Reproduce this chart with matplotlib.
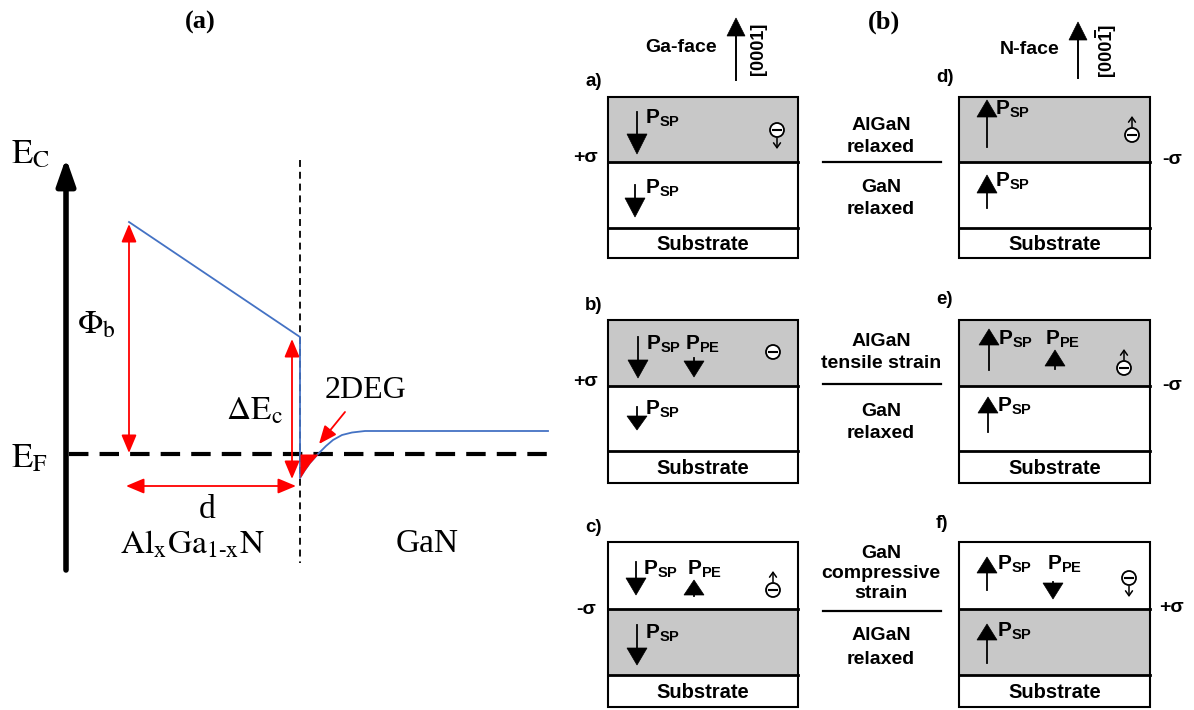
import matplotlib
matplotlib.use('Agg')
import matplotlib.pyplot as plt
from matplotlib.patches import Polygon, Rectangle, Circle
import numpy as np

plt.rcParams['mathtext.fontset'] = 'custom'
plt.rcParams['mathtext.rm'] = 'Liberation Sans:bold'
plt.rcParams['mathtext.bf'] = 'Liberation Sans:bold'
plt.rcParams['mathtext.it'] = 'Liberation Sans:bold'
plt.rcParams['lines.scale_dashes'] = False

# ---------------- data: panel (a) band diagram ----
band_x = [129, 300, 300, 305, 310, 318, 326, 333, 342, 352, 365, 548]
band_y = [222, 337, 478, 470, 463, 454, 446, 440, 435, 432.5, 431, 431]
fermi_level = 454
fermi_x = [69, 548]
interface_x = 300

# ---------------- data: panel (b) polarization sketches ----------------------
panel_letters_left = ['a)', 'b)', 'c)']
panel_letters_right = ['d)', 'e)', 'f)']
middle_top = [['AlGaN', 'relaxed'], ['AlGaN', 'tensile strain'],
              ['GaN', 'compressive', 'strain']]
middle_bottom = [['GaN', 'relaxed'], ['GaN', 'relaxed'], ['AlGaN', 'relaxed']]
sigma_left = ['+σ', '+σ', '-σ']
sigma_right = ['-σ', '-σ', '+σ']
gray_layer = ['top', 'top', 'bottom']
substrate_label = 'Substrate'
face_labels = ['Ga-face', 'N-face']
direction_labels = ['[0001]', '[0001]']
psp_label = r'$\mathbf{P_{SP}}$'
ppe_label = r'$\mathbf{P_{PE}}$'

fig = plt.figure(figsize=(11.94, 7.10), dpi=100)
ax = fig.add_axes([0, 0, 1, 1])
ax.set_xlim(0, 1194)
ax.set_ylim(710, 0)
ax.axis('off')

SERIF = 'Liberation Serif'
SANS = 'Liberation Sans'

# ============================ Panel (a) =====================================
ax.text(200, 22, '(a)', fontsize=19, fontweight='bold', family=SERIF,
        ha='center', va='center')

# energy axis
ax.annotate('', xy=(66, 158), xytext=(66, 570),
            arrowprops=dict(arrowstyle='-|>,head_length=0.8,head_width=0.28',
                            color='black', lw=4, shrinkA=0, shrinkB=0,
                            mutation_scale=20))
# interface dashed line
ax.plot([interface_x, interface_x], [160, 563], color='black', lw=1.3,
        dashes=(5, 3.5))
# Fermi level
ax.plot(fermi_x, [fermi_level, fermi_level], color='black', lw=3,
        dashes=(14, 8))

# conduction band
ax.plot(band_x, band_y, color='#4472C4', lw=1.3, zorder=3)

# 2DEG fill
bx = np.array(band_x[2:])
by = np.array(band_y[2:])
xs = np.linspace(bx[0], 320, 60)
ys = np.interp(xs, bx, by)
ax.fill_between(xs, fermi_level, ys, where=ys >= fermi_level, color='red',
                lw=0, zorder=4)


def red_arrow(p0, p1, style='<|-|>'):
    ax.annotate('', xy=p1, xytext=p0,
                arrowprops=dict(arrowstyle=style + ',head_length=1.0,head_width=0.42',
                                color='red', lw=1.3, shrinkA=0, shrinkB=0,
                                mutation_scale=11), zorder=5)


red_arrow((129, 224), (129, 453))
red_arrow((292, 339), (292, 479))
red_arrow((126, 486), (296, 486))
red_arrow((345, 412), (319, 444), style='-|>')

ax.text(11, 163, r'$\mathrm{E_C}$', fontsize=25, math_fontfamily='stix',
        ha='left', va='baseline')
ax.text(11, 467, r'$\mathrm{E_F}$', fontsize=25, math_fontfamily='stix',
        ha='left', va='baseline')
ax.text(77, 334, r'$\mathrm{\Phi_b}$', fontsize=24, math_fontfamily='stix',
        ha='left', va='baseline')
ax.text(226, 420, r'$\mathrm{\Delta E_c}$', fontsize=24, math_fontfamily='stix',
        ha='left', va='baseline')
ax.text(325, 398, '2DEG', fontsize=23, family=SERIF, ha='left', va='baseline')
ax.text(207, 518, 'd', fontsize=24, family=SERIF, ha='center', va='baseline')
ax.text(120, 553, r'$\mathrm{Al_xGa_{1\text{-}x}N}$', fontsize=24,
        math_fontfamily='stix', ha='left', va='baseline')
ax.text(396, 552, 'GaN', fontsize=24, family=SERIF, ha='left', va='baseline')

# ============================ Panel (b) =====================================
ax.text(884, 22, '(b)', fontsize=19, fontweight='bold', family=SERIF,
        ha='center', va='center')

GRAY = '#c8c8c8'
col_x = [(608, 798), (959, 1150)]
row_top = [97, 320, 542]
row_mid = [162, 386, 609]
row_sub = [228, 451, 675]
row_bot = [258, 483, 707]


def tri(x, tip, base, w):
    ax.add_patch(Polygon([[x - w / 2, base], [x + w / 2, base], [x, tip]],
                         closed=True, facecolor='black', edgecolor='black',
                         lw=0.5, zorder=5))


def pol_arrow(x, y0, y1, head=17, w=20, lw=1.3):
    d = np.sign(y1 - y0)
    base = y1 - d * head
    ax.plot([x, x], [y0, base], color='black', lw=lw, zorder=5)
    tri(x, y1, base, w)


def electron(x, y, direction):
    ax.add_patch(Circle((x, y), 7, facecolor='white', edgecolor='black',
                        lw=1.3, zorder=5))
    ax.plot([x - 4, x + 4], [y, y], color='black', lw=1.5, zorder=6)
    if direction is None:
        return
    sgn = 1 if direction == 'down' else -1
    ax.annotate('', xy=(x, y + sgn * 19), xytext=(x, y + sgn * 8),
                arrowprops=dict(arrowstyle='->,head_length=0.35,head_width=0.25',
                                color='black', lw=1.1, shrinkA=0, shrinkB=0,
                                mutation_scale=10))


def label(x, y, s):
    ax.text(x, y + 7, s, fontsize=15, ha='left', va='baseline',
            math_fontfamily='custom')


# boxes
for c, (x0, x1) in enumerate(col_x):
    for r in range(3):
        t, m, s, b = row_top[r], row_mid[r], row_sub[r], row_bot[r]
        if gray_layer[r] == 'top':
            ax.add_patch(Rectangle((x0, t), x1 - x0, m - t, facecolor=GRAY,
                                   edgecolor='none', zorder=1))
        else:
            ax.add_patch(Rectangle((x0, m), x1 - x0, s - m, facecolor=GRAY,
                                   edgecolor='none', zorder=1))
        ax.add_patch(Rectangle((x0, t), x1 - x0, b - t, facecolor='none',
                               edgecolor='black', lw=1.5, zorder=2))
        ax.plot([x0, x1], [m, m], color='black', lw=2, zorder=2)
        ax.plot([x0, x1], [s, s], color='black', lw=2, zorder=2)
        ax.text((x0 + x1) / 2, (s + b) / 2 + 1, substrate_label, fontsize=14.5,
                fontweight='bold', family=SANS, ha='center', va='center')

# panel letters
for r in range(3):
    ax.text(585, [82, 305, 527][r], panel_letters_left[r], fontsize=13.5,
            fontweight='bold', family=SANS, ha='left', va='center')
    ax.text(936, [77, 300, 523][r], panel_letters_right[r], fontsize=13.5,
            fontweight='bold', family=SANS, ha='left', va='center')

# sigma labels
for r in range(3):
    ax.text(586, [158, 382, 610][r], sigma_left[r], fontsize=14,
            family=SANS, fontweight='bold', ha='center', va='center')
    ax.text(1172, [160, 386, 608][r], sigma_right[r], fontsize=14,
            family=SANS, fontweight='bold', ha='center', va='center')

# middle descriptions
top_ys = [[125, 147], [342, 363], [553, 574, 594]]
bot_ys = [[187, 209], [411, 434], [636, 659]]
div_ys = [162, 384, 611]
for r in range(3):
    for txt, yy in zip(middle_top[r], top_ys[r]):
        ax.text(881, yy, txt, fontsize=14, fontweight='bold', family=SANS,
                ha='center', va='center')
    for txt, yy in zip(middle_bottom[r], bot_ys[r]):
        ax.text(881, yy, txt, fontsize=14, fontweight='bold', family=SANS,
                ha='center', va='center')
    ax.plot([823, 941], [div_ys[r], div_ys[r]], color='black', lw=1.6)

# face labels + growth direction arrows
ax.text(681, 48, face_labels[0], fontsize=14, fontweight='bold', family=SANS,
        ha='center', va='center')
ax.text(1030, 50, face_labels[1], fontsize=14, fontweight='bold', family=SANS,
        ha='center', va='center')
pol_arrow(736, 80, 18, head=18, w=18, lw=1.4)
pol_arrow(1078, 78, 22, head=18, w=18, lw=1.4)
ax.text(758, 49, direction_labels[0], fontsize=13, rotation=90,
        fontweight='bold', family=SANS, ha='center', va='center')
ax.text(1106, 50, direction_labels[1], fontsize=13, rotation=90,
        fontweight='bold', family=SANS, ha='center', va='center')
# overbar on the "1" of the N-face direction index
ax.plot([1095, 1095], [31, 37], color='black', lw=1.4)

# Ga-face spontaneous polarization arrows (down)
pol_arrow(637, 112, 154, head=20)
pol_arrow(635, 185, 217, head=19)
pol_arrow(638, 337, 378, head=18)
pol_arrow(637, 407, 430, head=14)
pol_arrow(636, 562, 595, head=17)
pol_arrow(637, 625, 665, head=17)
# N-face spontaneous polarization arrows (up)
pol_arrow(987, 147, 100, head=17)
pol_arrow(987, 208, 175, head=18)
pol_arrow(989, 370, 329, head=16)
pol_arrow(988, 432, 397, head=16)
pol_arrow(987, 590, 557, head=16)
pol_arrow(987, 663, 624, head=16)
# piezoelectric arrows
pol_arrow(694, 358, 377, head=16)
pol_arrow(694, 596, 580, head=15)
pol_arrow(1055, 369, 350, head=16)
pol_arrow(1053, 582, 599, head=16)

for (x, y) in [(645, 117), (645, 187), (646, 343), (645, 408), (643, 568),
               (645, 632), (995, 108), (995, 180), (998, 338), (997, 405),
               (997, 563), (997, 630)]:
    label(x, y, psp_label)
for (x, y) in [(685, 343), (687, 568), (1045, 338), (1047, 563)]:
    label(x, y, ppe_label)

# electrons
electron(777, 130, 'down')
electron(773, 352, None)
electron(773, 590, 'up')
electron(1132, 135, 'up')
electron(1124, 368, 'up')
electron(1129, 578, 'down')

fig.savefig('out.png', dpi=100)
